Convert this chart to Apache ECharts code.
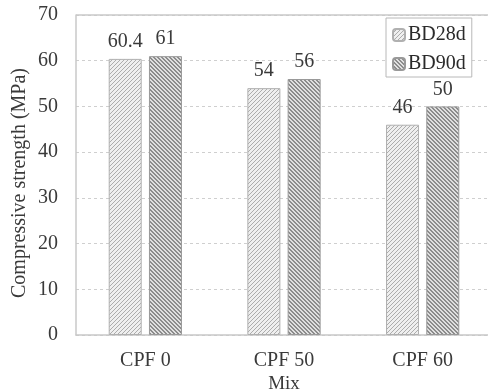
<!DOCTYPE html>
<html><head><meta charset="utf-8">
<script src="https://cdn.jsdelivr.net/npm/echarts@6/dist/echarts.min.js"></script>
<style>html,body{margin:0;padding:0;background:#fff}#c{width:488px;height:391px}</style>
</head><body><div id="c"></div>
<script>
var categories = ['CPF 0', 'CPF 50', 'CPF 60'];
var bd28 = [60.4, 54, 46];
var bd90 = [61, 56, 50];
var yTicks = [0, 10, 20, 30, 40, 50, 60, 70];

function makePattern(dir, bg, fg, thick) {
  var s = 4, cv = document.createElement('canvas');
  cv.width = s; cv.height = s;
  var ctx = cv.getContext('2d');
  ctx.fillStyle = bg; ctx.fillRect(0, 0, s, s);
  ctx.fillStyle = fg;
  for (var i = 0; i < s; i++) {
    for (var t = 0; t < thick; t++) {
      var x = dir === '/' ? (s - 1 - i + t) % s : (i + t) % s;
      ctx.fillRect(x, i, 1, 1);
    }
  }
  return { image: cv, repeat: 'repeat' };
}
var p28 = makePattern('/', '#efefef', '#acacac', 1);
var p90 = makePattern('\\', '#e0e0e0', '#8c8c8c', 2);
var font = '"Liberation Serif", "Times New Roman", serif';

var chart = echarts.init(document.getElementById('c'), null, {renderer: 'canvas'});
chart.setOption({
  animation: false,
  textStyle: {fontFamily: font},
  grid: {left: 76, right: -4, top: 15, bottom: 56, containLabel: false, outerBoundsMode: 'none'},
  legend: {
    orient: 'vertical', left: 386, top: 18, width: 92,
    backgroundColor: '#fff', borderColor: '#b8b8b8', borderWidth: 1,
    padding: [7, 6, 3, 6], itemGap: 9, itemWidth: 12, itemHeight: 12,
    textStyle: {fontFamily: font, fontSize: 20, color: '#2a2a2a', padding: [0, 0, 0, -2]},
    data: ['BD28d', 'BD90d']
  },
  xAxis: {
    type: 'category', data: categories,
    name: 'Mix', nameLocation: 'middle', nameGap: 40, nameMoveOverlap: false,
    nameTextStyle: {fontFamily: font, fontSize: 19, color: '#3a3a3a'},
    axisLine: {lineStyle: {color: '#c8c8c8', width: 1.5}},
    axisTick: {show: false},
    axisLabel: {fontFamily: font, fontSize: 20, color: '#3a3a3a', margin: 16}
  },
  yAxis: {
    type: 'value', min: yTicks[0], max: yTicks[yTicks.length - 1], interval: 10,
    name: 'Compressive strength (MPa)', nameLocation: 'middle', nameGap: 46, nameMoveOverlap: false,
    nameTextStyle: {fontFamily: font, fontSize: 20, color: '#3a3a3a', padding: [0, 16, 0, 0]},
    axisLine: {show: true, lineStyle: {color: '#c8c8c8', width: 1.5}},
    axisTick: {show: false},
    axisLabel: {fontFamily: font, fontSize: 20, color: '#3a3a3a', margin: 18},
    splitLine: {show: true, lineStyle: {color: '#cfcfcf', type: [3, 3], width: 1}}
  },
  series: [
    {name: 'BD28d', type: 'bar', data: bd28, barWidth: 33, barGap: '22%',
     itemStyle: {color: p28, borderColor: '#b0b0b0', borderWidth: 1},
     label: {show: true, position: 'top', distance: 7, fontFamily: font, fontSize: 20, color: '#3a3a3a'}},
    {name: 'BD90d', type: 'bar', data: bd90, barWidth: 33,
     itemStyle: {color: p90, borderColor: '#999999', borderWidth: 1},
     label: {show: true, position: 'top', distance: 7, fontFamily: font, fontSize: 20, color: '#3a3a3a'}}
  ],
  graphic: [{type: 'line', shape: {x1: 76, y1: 15, x2: 488, y2: 15}, style: {stroke: '#c8c8c8', lineWidth: 1.5}, z: 10}]
});
</script></body></html>
